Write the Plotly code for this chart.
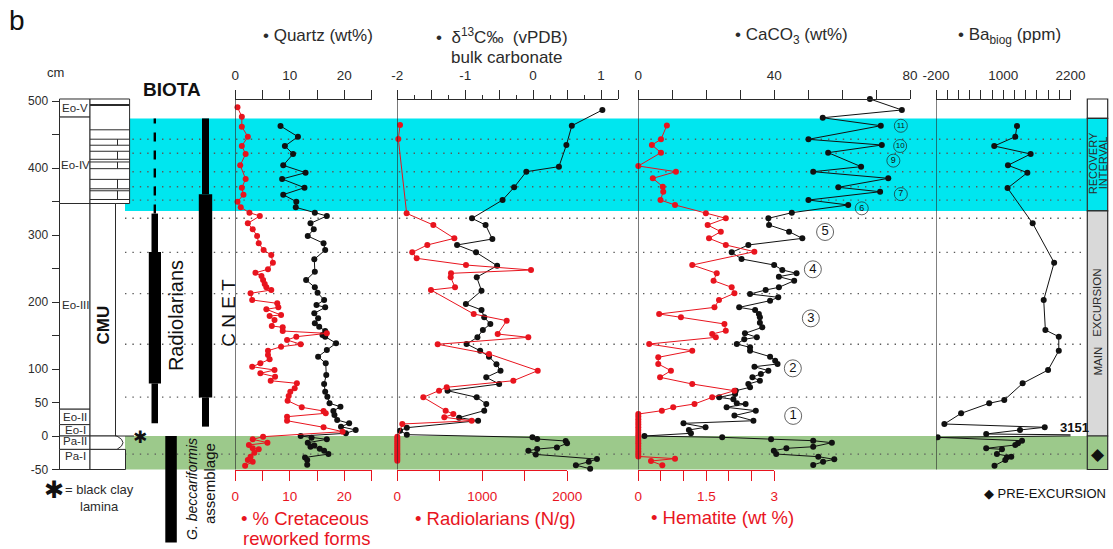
import plotly.graph_objects as go

W, H = 1113, 549
D0_PX = 436.0      # pixel row of depth 0 cm
PX_PER_CM = 0.67
Y_RANGE = [(D0_PX - H) / PX_PER_CM, D0_PX / PX_PER_CM]

INK = "#2b2b2b"
RED = "#e8141e"
CYAN = "#00e6ef"
GREEN = "#9cc98b"
NARROW = "Liberation Sans Narrow, Arial Narrow, Liberation Sans, Arial, sans-serif"
SANS = "Liberation Sans, Arial, sans-serif"

# ---------------- data (depth in cm) ----------------
quartz_depth = [462.7, 446.7, 432.8, 420.9, 404.0, 393.0, 383.6, 370.6, 360.2, 349.7, 341.3, 333.3, 328.4,
                317.4, 308.5, 298.5, 287.6, 277.6, 263.7, 245.2, 232.8, 221.9, 213.9, 203.0, 195.5, 192.0,
                183.1, 175.7, 168.2, 163.1, 156.7, 150.7, 148.2, 138.4, 128.4, 118.4, 108.5, 91.0, 77.6,
                66.1, 58.7, 48.8, 43.7, 37.3, 31.3, 23.9, 18.9, 13.9, 9.0, 4.0, 0.0, -2.5, -5.0, -10.0,
                -14.0, -16.0, -19.0, -22.0, -27.0, -32.0, -36.0, -43.0]
quartz_wt = [8.3, 11.5, 9.1, 10.6, 8.8, 12.9, 8.6, 12.7, 8.8, 11.2, 11.1, 14.6, 16.8, 13.8, 14.4, 13.3, 16.2,
             16.5, 14.5, 14.6, 13.0, 14.6, 15.1, 16.3, 14.9, 16.5, 14.5, 15.2, 14.6, 15.4, 16.5, 16.0, 16.5,
             18.5, 16.8, 15.2, 16.6, 16.7, 16.3, 16.5, 16.9, 17.3, 19.3, 18.0, 18.2, 18.7, 20.9, 19.4, 22.1,
             20.3, 12.0, 14.0, 16.8, 13.3, 14.5, 13.8, 15.5, 16.3, 17.1, 12.8, 13.2, 13.2]

cret_depth = [490.5, 476.6, 461.7, 446.7, 432.8, 420.9, 404.0, 383.6, 370.6, 360.2, 349.7, 341.3, 333.3, 328.4,
              317.4, 308.5, 298.5, 287.6, 277.6, 270.1, 258.7, 248.8, 243.7, 238.8, 232.8, 226.9, 221.9, 217.9,
              213.0, 203.0, 198.0, 192.0, 189.1, 180.6, 179.1, 173.1, 164.2, 162.2, 156.7, 153.2, 148.2, 143.3,
              136.9, 133.3, 127.3, 120.9, 114.5, 108.5, 103.4, 98.5, 93.6, 88.5, 82.5, 78.6, 71.2, 66.1, 59.7,
              52.7, 42.8, 37.3, 33.9, 28.8, 22.8, 13.0, 6.4, -1.0, -5.0, -10.0, -13.4, -18.4, -19.9, -24.9,
              -30.9, -35.8, -38.4, -44.3]
cret_pct = [0.4, 1.2, 1.2, 2.3, 1.2, 1.9, 0.9, 1.9, 1.2, 1.5, 0.4, 1.0, 2.6, 4.5, 2.3, 3.2, 4.0, 4.3, 5.2, 6.6,
            6.9, 6.0, 3.7, 4.8, 5.1, 5.4, 5.7, 6.6, 2.8, 3.1, 7.7, 7.9, 5.7, 8.4, 6.3, 7.2, 6.7, 8.7, 8.7, 16.8,
            11.2, 9.5, 12.0, 8.4, 6.0, 6.0, 6.3, 4.6, 3.1, 7.2, 4.6, 7.3, 6.5, 11.3, 10.9, 10.1, 9.8, 9.6, 12.2,
            16.2, 16.6, 9.5, 9.5, 16.2, 19.7, 5.1, 3.2, 5.9, 2.5, 3.2, 4.3, 3.5, 2.8, 2.3, 3.2, 1.8]

d13c_depth = [486.6, 463.1, 434.3, 402.0, 394.5, 371.2, 352.2, 324.9, 314.9, 294.0, 285.1, 274.1, 254.2,
              236.9, 216.9, 197.0, 188.1, 177.1, 167.2, 158.2, 147.3, 137.3, 127.3, 118.4, 107.0, 97.5, 87.6,
              77.6, 67.6, 57.7, 47.8, 37.8, 27.4, 22.8, 12.4, 7.9, 2.0, -2.0, -4.5, -7.5, -11.0, -17.0, -19.5,
              -22.0, -27.5, -34.5, -38.5, -43.5, -49.0]
d13c_permil = [1.02, 0.57, 0.49, 0.38, -0.10, -0.28, -0.45, -0.90, -0.70, -0.60, -1.12, -0.84, -0.53, -0.83,
               -0.76, -0.99, -0.76, -0.72, -0.63, -0.74, -0.82, -0.98, -0.78, -0.65, -0.54, -0.48, -0.69, -0.50,
               -1.26, -0.83, -0.69, -0.72, -1.09, -0.81, -1.86, -1.96, -1.86, -0.01, 0.06, 0.48, 0.50, 0.35,
               0.06, -0.07, 0.04, 0.94, 0.82, 0.63, 0.84]

radio_depth = [464.2, 443.3, 332.3, 314.9, 295.0, 285.1, 274.1, 265.2, 255.2, 247.8, 242.8, 236.9, 221.9,
               217.9, 182.1, 172.1, 152.2, 147.3, 136.9, 122.4, 97.5, 82.5, 72.7, 67.6, 57.7, 37.8, 32.8, 27.9,
               22.8, 17.9, -1.0, -4.0, -7.0, -10.0, -13.0, -16.0, -19.0, -22.0, -25.0, -28.0, -31.0, -34.0, -37.0]
radio_ng = [32, 12, 110, 424, 671, 353, 176, 228, 808, 1573, 632, 628, 679, 396, 899, 1287, 1181, 1541, 475,
            1079, 1652, 1365, 581, 491, 306, 569, 659, 553, 875, 59, 0, 0, 0, 0, 0, 0, 0, 0, 0, 0, 0, 0, 0]

caco3_depth = [503.0, 486.6, 475.0, 463.1, 442.8, 434.3, 422.9, 402.0, 394.5, 384.6, 371.2, 364.6, 352.2,
               344.8, 333.3, 324.9, 314.9, 305.0, 295.0, 285.1, 274.1, 264.2, 255.2, 247.8, 242.8, 237.8, 231.8,
               221.9, 217.9, 211.9, 207.0, 202.0, 192.0, 188.1, 182.1, 177.1, 169.1, 162.2, 153.2, 147.3, 144.3,
               137.3, 132.3, 127.3, 118.4, 112.4, 107.5, 103.4, 97.5, 92.5, 87.6, 82.5, 77.6, 72.7, 67.6, 62.7,
               57.7, 54.7, 48.8, 47.8, 42.8, 37.8, 30.5, 22.8, 18.9, 13.0, 9.0, 4.0, 0.0, -2.0, -5.0, -7.0,
               -10.0, -16.0, -18.4, -21.9, -26.9, -30.9, -34.8, -38.4, -43.3]
caco3_wt = [68.2, 77.6, 54.3, 71.4, 50.1, 71.7, 55.9, 65.6, 51.5, 73.6, 58.9, 71.2, 50.1, 61.8, 45.2, 38.3,
            38.5, 44.4, 48.3, 32.4, 27.5, 30.4, 40.0, 42.4, 46.6, 41.4, 45.9, 41.4, 37.5, 32.9, 41.2, 38.8, 29.7,
            34.4, 35.5, 35.8, 35.8, 36.5, 31.4, 34.9, 31.2, 29.0, 32.9, 32.9, 38.8, 40.3, 41.0, 34.2, 38.3, 36.1,
            33.6, 35.8, 32.4, 32.9, 28.7, 28.5, 23.8, 28.0, 29.0, 31.6, 26.0, 34.6, 28.3, 33.9, 13.3, 19.8, 14.9,
            15.5, 1.8, 24.7, 39.1, 51.5, 57.0, 51.5, 43.6, 39.9, 40.6, 53.0, 57.7, 54.4, 51.5]

hem_depth = [463.6, 442.8, 434.3, 422.9, 403.0, 394.5, 384.6, 372.1, 364.6, 352.2, 344.8, 332.3, 324.9, 314.9,
             305.0, 295.0, 285.1, 275.1, 255.2, 242.8, 231.8, 221.9, 213.0, 203.0, 192.0, 182.1, 177.1, 167.2,
             157.2, 152.2, 147.3, 137.3, 127.3, 117.4, 107.5, 97.5, 87.6, 77.6, 67.6, 57.7, 47.8, 42.8, 37.8,
             32.8, 29.0, 25.0, 21.0, 17.0, 13.0, 9.0, 5.0, 1.0, -3.0, -7.0, -11.0, -15.0, -19.0, -23.0, -27.0,
             -30.5, -33.8, -37.3, -43.8]
hem_wt = [0.63, 0.50, 0.30, 0.50, 0.0, 0.83, 0.32, 0.54, 0.55, 0.49, 0.81, 1.49, 1.93, 1.53, 1.82, 1.56, 1.93,
          2.56, 1.19, 1.73, 1.66, 2.06, 2.12, 1.78, 1.68, 0.46, 0.94, 1.90, 1.93, 1.63, 1.71, 0.24, 1.19, 0.44,
          0.44, 0.72, 0.48, 1.19, 2.12, 1.63, 1.24, 0.77, 0.52, 0.0, 0.0, 0.0, 0.0, 0.0, 0.0, 0.0, 0.0, 0.0,
          0.0, 0.0, 0.0, 0.0, 0.0, 0.0, 0.0, 0.0, 0.81, 0.28, 0.53]

ba_depth = [462.7, 446.7, 432.8, 420.9, 404.0, 393.0, 370.0, 317.4, 258.7, 203.0, 158.2, 148.2, 127.3, 98.5,
            78.6, 53.7, 48.8, 33.8, 17.9, 13.0, 9.0, 3.0, 1.0, -2.0, -7.0, -11.0, -13.4, -18.4, -19.9, -26.9,
            -30.8, -31.8, -35.8, -44.3]
ba_ppm = [1245, 1215, 839, 1489, 1084, 1430, 1077, 1525, 1908, 1722, 1752, 1991, 1991, 1800, 1346, 1018, 749,
          248, -51, 1740, 1299, 696, 3151, -170, 1335, 1263, 1215, 696, 977, 887, 1143, 1066, 1036, 844]

cycle_labels = ["1", "2", "3", "4", "5", "6", "7", "8", "9", "10", "11"]
cycle_depth = [30, 101, 175.6, 248.8, 304.5, 339.8, 361, 384, 411, 432.8, 463]
cycle_caco3_pos = [45.6, 45.5, 50.8, 51.4, 55.0, 65.8, 77.3, 81.7, 75.1, 77.1, 77.3]

dotted_depths = [443, 422, 394.5, 372, 352, 325, 274, 212.5, 137, 58, -27]
recovery_interval = [336, 474]
pre_excursion = [-50, 0]

eo_bounds = [503, 476, 347, 40, 17, 0, -20, -50]
eo_names = ["Eo-V", "Eo-IV", "Eo-III", "Eo-II", "Eo-I", "Pa-II", "Pa-I"]
eo_label_depth = [489, 405, 196, 29, 9, -8, -30]
cmu_beds = [494, 457, 443, 434, 425, 413, 409, 399, 383, 369, 366, 353]

depth_ticks = [500, 400, 300, 200, 100, 50, 0, -50]
depth_minor = [450, 350, 250, 150]


def fx(px):
    return px / W


def fy(py):
    return 1 - py / H


fig = go.Figure()


def series(x, y, color, xa, clip=False):
    fig.add_trace(go.Scatter(x=x, y=y, xaxis=xa, yaxis="y", mode="lines+markers",
                             line=dict(color=color, width=1), marker=dict(color=color, size=6),
                             cliponaxis=clip, showlegend=False, hoverinfo="skip"))


series(cret_pct, cret_depth, RED, "x2")
series(quartz_wt, quartz_depth, "#111111", "x")
series(radio_ng, radio_depth, RED, "x4")
series(d13c_permil, d13c_depth, "#111111", "x3")
series(hem_wt, hem_depth, RED, "x6")
series(caco3_wt, caco3_depth, "#111111", "x5")
series(ba_ppm, ba_depth, "#111111", "x7", clip=True)
# invisible carrier so the extra tick-only axis is drawn
fig.add_trace(go.Scatter(x=[0], y=[Y_RANGE[1] + 100], xaxis="x8", yaxis="y", mode="markers",
                         marker=dict(opacity=0), showlegend=False, hoverinfo="skip"))

# circled cycle numbers
fig.add_trace(go.Scatter(
    x=cycle_caco3_pos, y=cycle_depth, xaxis="x5", yaxis="y", mode="markers+text",
    text=cycle_labels, textposition="middle center",
    textfont=dict(family=SANS, size=[13, 13, 13, 13, 13, 9, 9, 9, 9, 8, 8], color="#111"),
    marker=dict(symbol="circle-open", size=[17, 17, 17, 17, 17, 13, 13, 13, 13, 13, 13],
                color="#222", line=dict(width=1, color="#222")),
    cliponaxis=False, showlegend=False, hoverinfo="skip"))

# ---------------- axes ----------------
TICKFONT = dict(family=SANS, size=13.5, color=INK)


def top_axis(d0, d1, rng, tickvals, minor_vals, minor_len=9):
    return dict(domain=[fx(d0), fx(d1)], range=rng, anchor="free", position=fy(99), side="top",
                tickmode="array", tickvals=tickvals, ticktext=[f"{v:g}" for v in tickvals], ticks="outside",
                ticklen=9, tickwidth=1, tickcolor=INK, showline=True, linecolor=INK, linewidth=1,
                showgrid=False, zeroline=False, tickfont=TICKFONT, fixedrange=True, ticklabelstandoff=5,
                automargin=False,
                minor=dict(tickvals=minor_vals, ticklen=minor_len, tickwidth=1, tickcolor=INK, ticks="outside",
                           showgrid=False))


def bottom_axis(d0, d1, rng, tickvals, minor_vals):
    return dict(domain=[fx(d0), fx(d1)], range=rng, anchor="free", position=fy(470), side="bottom",
                tickmode="array", tickvals=tickvals, ticktext=[f"{v:g}" for v in tickvals], ticks="outside",
                ticklen=10, tickwidth=1.2, tickcolor=RED, showline=True, linecolor=RED, linewidth=1.2,
                showgrid=False, zeroline=False, tickfont=dict(family=SANS, size=13.5, color=RED),
                fixedrange=True, ticklabelstandoff=4, automargin=False,
                minor=dict(tickvals=minor_vals, ticklen=10, tickwidth=1.2, tickcolor=RED, ticks="outside",
                           showgrid=False))


layout_axes = dict(
    xaxis=top_axis(235.3, 371.5, [0, 25], [0, 10, 20], [5, 15, 25]),
    xaxis2=bottom_axis(235.3, 371.5, [0, 25], [0, 10, 20], [5, 15, 25]),
    xaxis3=top_axis(397.3, 618, [-2, 1.25], [-2, -1, 0, 1], [-1.75, -1.25, -0.75, -0.25, 0.25, 0.75],
                    minor_len=4),
    xaxis8=dict(domain=[fx(397.3), fx(618)], range=[-2, 1.25], anchor="free", position=fy(99), side="top",
                overlaying="x3", tickmode="array", tickvals=[-1.5, -0.5, 0.5, 1.25], ticks="outside",
                ticklen=9, tickwidth=1, tickcolor=INK, showticklabels=False, showline=False, showgrid=False,
                zeroline=False, fixedrange=True, automargin=False),
    xaxis4=bottom_axis(397.3, 567.3, [0, 2000], [0, 1000, 2000], [500, 1500]),
    xaxis5=top_axis(638.3, 910, [0, 80], [0, 40, 80], [10, 20, 30, 50, 60, 70]),
    xaxis6=bottom_axis(638.3, 774.3, [0, 3], [0, 1.5, 3], [0.5, 1, 2, 2.5]),
    xaxis7=top_axis(936, 1070.5, [-200, 2200], [-200, 1000, 2200],
                    [v for v in range(0, 2200, 200) if v != 1000]),
    yaxis=dict(domain=[0, 1], range=Y_RANGE, anchor="free", position=fx(59.5), side="left",
               tickmode="array", tickvals=depth_ticks, ticktext=[str(v) for v in depth_ticks],
               ticks="outside", ticklen=8, tickcolor=INK, showline=False, showgrid=False, zeroline=False,
               tickfont=dict(family=SANS, size=12, color=INK), fixedrange=True, ticklabelstandoff=1,
               automargin=False,
               minor=dict(tickvals=depth_minor, ticklen=8, tickcolor=INK, ticks="outside", showgrid=False)),
)

# ---------------- shapes ----------------
shapes = []
# bands
shapes.append(dict(type="rect", xref="paper", yref="y", x0=fx(125), x1=fx(1087), y0=recovery_interval[0],
                   y1=recovery_interval[1], fillcolor=CYAN, line=dict(width=0), layer="below"))
shapes.append(dict(type="rect", xref="paper", yref="y", x0=fx(125), x1=fx(1087), y0=pre_excursion[0],
                   y1=pre_excursion[1], fillcolor=GREEN, line=dict(width=0), layer="below"))
for d in dotted_depths:
    shapes.append(dict(type="line", xref="paper", yref="y", x0=fx(125), x1=fx(1085), y0=d, y1=d,
                       line=dict(color="#5a5a5a", width=1.4, dash="1.4px,6px"), layer="below"))
# panel vertical lines
for xa, xv in [("x", 0), ("x3", -2), ("x5", 0), ("x7", -200)]:
    shapes.append(dict(type="line", xref=xa, yref="y", x0=xv, x1=xv, y0=-50, y1=503,
                       line=dict(color=INK, width=1.2)))

# stratigraphic column (Eo units)
for top, bot in zip(eo_bounds[:-1], eo_bounds[1:]):
    shapes.append(dict(type="rect", xref="paper", yref="y", x0=fx(59.5), x1=fx(90), y0=bot, y1=top,
                       fillcolor="white", line=dict(color=INK, width=1)))
# CMU column
shapes.append(dict(type="rect", xref="paper", yref="y", x0=fx(90), x1=fx(129.6), y0=347, y1=503,
                   fillcolor="white", line=dict(color=INK, width=1)))
shapes.append(dict(type="rect", xref="paper", yref="y", x0=fx(90), x1=fx(115.5), y0=0, y1=347,
                   fillcolor="white", line=dict(color=INK, width=1)))
shapes.append(dict(type="path", xref="paper", yref="y",
                   path=f"M {fx(90)},0 L {fx(117)},0 Q {fx(129)},-10 {fx(117)},-20 L {fx(90)},-20 Z",
                   fillcolor="white", line=dict(color=INK, width=1)))
shapes.append(dict(type="rect", xref="paper", yref="y", x0=fx(90), x1=fx(125.5), y0=-50, y1=-20,
                   fillcolor="white", line=dict(color=INK, width=1)))
for i, d in enumerate(cmu_beds):
    shapes.append(dict(type="line", xref="paper", yref="y", x0=fx(90), x1=fx(129.6), y0=d, y1=d,
                       line=dict(color=INK, width=2 if i == 0 else 1)))
for a, b in [(443, 434), (425, 413), (409, 399), (383, 369), (366, 353)]:
    shapes.append(dict(type="line", xref="paper", yref="y", x0=fx(117.5), x1=fx(117.5), y0=b, y1=a,
                       line=dict(color=INK, width=1)))
shapes.append(dict(type="line", xref="paper", yref="y", x0=fx(115.5), x1=fx(134), y0=0, y1=0,
                   line=dict(color=INK, width=1)))


# biota range bars
def bar(x0, x1, d0, d1):
    shapes.append(dict(type="rect", xref="paper", yref="y", x0=fx(x0), x1=fx(x1), y0=d0, y1=d1,
                       fillcolor="black", line=dict(width=0)))


shapes.append(dict(type="line", xref="paper", yref="y", x0=fx(154.8), x1=fx(154.8), y0=332, y1=474,
                   line=dict(color="black", width=2.4, dash="dash")))
bar(151.5, 158, 274.5, 332)
bar(148.8, 161, 78.5, 274.5)
bar(151.5, 158, 19, 78.5)
bar(202, 209, 361, 474)
bar(198.8, 212.2, 57.6, 361)
bar(202, 209, 14, 57.6)
bar(165.3, 176.8, -159, 0)

# right-hand interval column
for d0, d1, col in [(474, 503, "white"), (336, 474, CYAN), (0, 336, "#d9d9d9"), (-50, 0, GREEN)]:
    shapes.append(dict(type="rect", xref="paper", yref="y", x0=fx(1087.3), x1=fx(1107.7), y0=d0, y1=d1,
                       fillcolor=col, line=dict(color=INK, width=1.2)))

# ---------------- annotations ----------------
ann = []


def text(x, y, s, size=13, color=INK, family=SANS, yref="paper", angle=0, xanchor="center", bold=False,
         italic=False):
    yy = fy(y) if yref == "paper" else y
    font = dict(family=family, size=size, color=color)
    if bold:
        font["weight"] = "bold"
    if italic:
        font["style"] = "italic"
    ann.append(dict(x=fx(x), y=yy, xref="paper", yref=yref, text=s, showarrow=False, font=font,
                    textangle=angle, xanchor=xanchor, yanchor="middle", align="center"))


text(17, 20, "b", size=28, color="#111")
text(55, 73, "cm", size=13)
text(172, 89, "BIOTA", size=19, bold=True, color="#111")
text(318, 36, "• Quartz (wt%)", size=17)
text(502, 36, "•  δ<sup>13</sup>C‰  (vPDB)", size=17)
text(507, 57, "bulk carbonate", size=17)
text(791, 36, "• CaCO<sub>3</sub> (wt%)", size=17)
text(1009, 36, "• Ba<sub>biog</sub> (ppm)", size=17)
text(305, 518, "• % Cretaceous", size=18.5, color=RED)
text(306, 538, "reworked forms", size=18.5, color=RED)
text(495, 518, "• Radiolarians (N/g)", size=18.5, color=RED)
text(722, 517, "• Hematite (wt %)", size=18.5, color=RED)

for name, d in zip(eo_names, eo_label_depth):
    text(75, d, name, size=11.5, yref="y")
text(103, 165, "CMU", size=17, yref="y", angle=-90, bold=True, color="#111")
text(176, 179, "Radiolarians", size=20, yref="y", angle=-90, color="#111")
text(229, 184, "C N E T", size=19, yref="y", angle=-90, color="#111")
text(192, 489, "G. beccariformis", size=14, angle=-90, color="#111", italic=True)
text(209, 484, "assemblage", size=15, angle=-90, color="#111")
text(140, 437, "✱", size=17, family="DejaVu Sans", color="#111")
text(54, 490, "✱", size=24, family="DejaVu Sans", color="#111")
text(99, 489, "= black clay", size=13)
text(99, 506, "lamina", size=13)

text(1093, 407, "RECOVERY", size=11, yref="y", angle=-90)
text(1103, 407, "INTERVAL", size=11, yref="y", angle=-90)
text(1097.5, 198, "EXCURSION", size=11.5, yref="y", angle=-90)
text(1097.5, 112, "MAIN", size=11.5, yref="y", angle=-90)
text(1097.5, -27, "◆", size=17, family="DejaVu Sans", yref="y", color="#111")
text(1074, 427, "3151", size=13, family=NARROW, bold=True, color="#111")
text(1108, 493, "◆ PRE-EXCURSION", size=13, family=NARROW, xanchor="right", color="#111")

fig.update_layout(
    width=W, height=H, margin=dict(l=0, r=0, t=0, b=0, autoexpand=False), paper_bgcolor="white",
    plot_bgcolor="rgba(0,0,0,0)", showlegend=False, shapes=shapes, annotations=ann, **layout_axes)

fig.write_html("out.html")
